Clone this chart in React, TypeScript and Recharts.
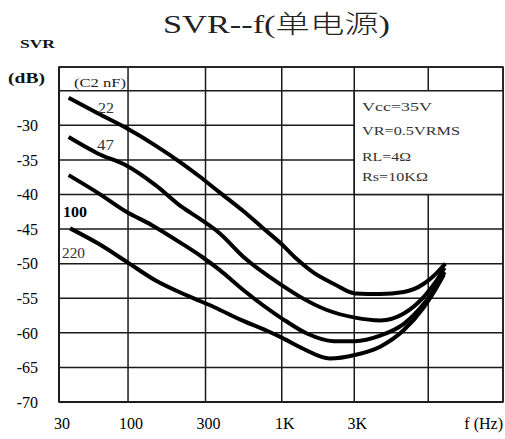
import { LineChart, Line, XAxis, YAxis, CartesianGrid, ReferenceArea } from 'recharts'

// x axis is in grid columns: 0 = 30Hz, ~1 = 100Hz, ~2 = 300Hz, ~3 = 1K, ~4 = 3K (columns are evenly spaced)
const xTicks = [0, 0.933, 1.98, 3.01, 3.99, 4.99, 6]
const xLabels = ['30', '100', '300', '1K', '3K', '', 'f  (Hz)']
const yTicks = [-70, -65, -60, -55, -50, -45, -40, -35, -30, -25]

// C2 = 22 nF
const pos22 = [0.13, 0.53, 0.91, 1.3, 1.66, 1.9, 2.17, 2.49, 2.75, 3.01, 3.21, 3.44, 3.71, 4.0, 4.34, 4.66, 4.93, 5.1, 5.22]
const svr22 = [-26.0, -28.3, -30.4, -32.9, -35.5, -37.4, -39.7, -42.4, -44.8, -47.2, -49.3, -51.3, -52.9, -54.3, -54.4, -54.1, -52.9, -51.4, -50.0]

// C2 = 47 nF
const pos47 = [0.13, 0.53, 0.91, 1.3, 1.66, 1.9, 2.17, 2.49, 3.01, 3.26, 3.62, 4.0, 4.34, 4.66, 4.93, 5.1, 5.21]
const svr47 = [-31.7, -34.1, -35.8, -38.6, -41.8, -43.5, -45.6, -49.0, -53.1, -54.8, -56.7, -57.8, -58.2, -57.2, -54.8, -52.5, -50.6]

// C2 = 100 nF
const pos100 = [0.13, 0.53, 0.91, 1.25, 1.66, 1.93, 2.17, 2.49, 3.01, 3.35, 3.71, 4.0, 4.34, 4.66, 4.93, 5.1, 5.21]
const svr100 = [-37.2, -39.8, -42.5, -44.4, -47.1, -49.0, -50.9, -53.8, -57.9, -60.1, -61.2, -61.2, -60.4, -58.7, -55.8, -53.3, -51.2]

// C2 = 220 nF
const pos220 = [0.15, 0.53, 0.91, 1.3, 1.75, 2.1, 2.45, 2.81, 3.01, 3.3, 3.66, 4.0, 4.34, 4.66, 4.93, 5.1, 5.2]
const svr220 = [-44.9, -47.1, -49.7, -52.4, -54.7, -56.3, -58.1, -59.7, -60.7, -62.3, -63.7, -63.2, -62.0, -59.6, -56.3, -53.5, -51.6]

const toPoints = (xs: number[], ys: number[]) => xs.map((x, i) => ({ x, svr: ys[i] }))

const series = [
  { name: '22', data: toPoints(pos22, svr22) },
  { name: '47', data: toPoints(pos47, svr47) },
  { name: '100', data: toPoints(pos100, svr100) },
  { name: '220', data: toPoints(pos220, svr220) },
]

const serif = "'Liberation Serif', 'Times New Roman', serif"

function XTick({ x, y, payload }: any) {
  const i = xTicks.indexOf(payload.value)
  const label = xLabels[i] ?? ''
  const last = i === xTicks.length - 1
  return (
    <text
      x={last ? x : x + 3}
      y={y}
      dy="0.71em"
      textAnchor={last ? 'end' : 'middle'}
      fontSize={16}
      fontFamily={serif}
      fill="#000"
    >
      {label}
    </text>
  )
}

export default function App() {
  return (
    <div style={{ position: 'absolute', left: 0, top: 0, width: 505, height: 439, background: '#fff' }}>
      <LineChart width={505} height={439} margin={{ top: 67, right: 2, left: 0, bottom: 0 }}>
        <CartesianGrid stroke="#1a1a1a" strokeWidth={1.5} />
        <XAxis
          dataKey="x"
          type="number"
          domain={[0, 6]}
          ticks={xTicks}
          height={37}
          tickLine={false}
          tickSize={0}
          tickMargin={16}
          axisLine={{ stroke: '#1a1a1a', strokeWidth: 1.5 }}
          tick={<XTick />}
          interval={0}
          allowDuplicatedCategory={false}
        />
        <YAxis
          type="number"
          domain={[-70, -21.57]}
          ticks={yTicks}
          width={59}
          tickLine={false}
          tickSize={0}
          tickMargin={21}
          interval={0}
          axisLine={{ stroke: '#1a1a1a', strokeWidth: 1.5 }}
          tickFormatter={(v: number) => (v === -25 ? '' : String(v))}
          tick={{ fill: '#000', fontSize: 16, fontFamily: serif }}
        />
        <ReferenceArea x1={0} x2={6} y1={-70} y2={-21.57} fill="none" stroke="#1a1a1a" strokeWidth={1.5} />
        <ReferenceArea x1={3.99} x2={6} y1={-40} y2={-25} fill="#fff" fillOpacity={1} stroke="#1a1a1a" strokeWidth={1.5} />
        {series.map((s) => (
          <Line
            key={s.name}
            data={s.data}
            dataKey="svr"
            type="monotone"
            stroke="#000"
            strokeWidth={4}
            dot={false}
            activeDot={false}
            isAnimationActive={false}
          />
        ))}
      </LineChart>
      <svg
        width={505}
        height={439}
        style={{ position: 'absolute', left: 0, top: 0, pointerEvents: 'none' }}
        fontFamily={serif}
      >
        <text x={163} y={33} fontSize={25} fontWeight={300} textLength={227} lengthAdjust="spacingAndGlyphs" fontFamily="'Liberation Serif', 'Noto Sans CJK SC', serif" fill="#222">
          SVR--f(单电源)
        </text>
        <text x={20} y={48} fontSize={13} fontWeight="bold" textLength={35} lengthAdjust="spacingAndGlyphs" fill="#111">SVR</text>
        <text x={8} y={83} fontSize={14} fontWeight="bold" textLength={37} lengthAdjust="spacingAndGlyphs" fill="#111">(dB)</text>
        <text x={74} y={87} fontSize={12} textLength={52} lengthAdjust="spacingAndGlyphs" fill="#222">(C2 nF)</text>
        <text x={98} y={113} fontSize={15} textLength={16} lengthAdjust="spacingAndGlyphs" fill="#333">22</text>
        <text x={97} y={150} fontSize={15} textLength={17} lengthAdjust="spacingAndGlyphs" fill="#333">47</text>
        <text x={63} y={217} fontSize={15} fontWeight="bold" textLength={24} lengthAdjust="spacingAndGlyphs" fill="#000">100</text>
        <text x={62} y={258} fontSize={14} textLength={23} lengthAdjust="spacingAndGlyphs" fill="#333">220</text>
        <g fontSize={12} fill="#333">
          <text x={362} y={111} textLength={70} lengthAdjust="spacingAndGlyphs">Vcc=35V</text>
          <text x={362} y={135} textLength={98} lengthAdjust="spacingAndGlyphs">VR=0.5VRMS</text>
          <text x={362} y={161} textLength={49} lengthAdjust="spacingAndGlyphs">RL=4Ω</text>
          <text x={362} y={181} textLength={66} lengthAdjust="spacingAndGlyphs">Rs=10KΩ</text>
        </g>
      </svg>
    </div>
  )
}
